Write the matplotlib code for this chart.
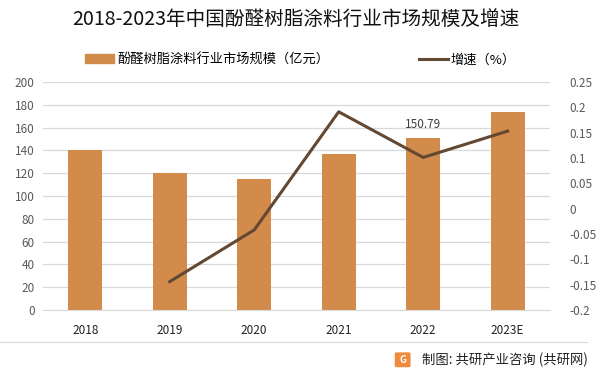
import matplotlib
matplotlib.use("Agg")
import matplotlib.pyplot as plt
from matplotlib.patches import FancyBboxPatch
from matplotlib.lines import Line2D

plt.rcParams['font.family'] = ['Noto Sans CJK SC', 'DejaVu Sans']

years = ['2018', '2019', '2020', '2021', '2022', '2023E']
market_size = [140.3, 120.1, 115.0, 137.0, 150.79, 173.9]
growth_years = ['2019', '2020', '2021', '2022', '2023E']
growth = [-0.144, -0.042, 0.191, 0.101, 0.153]

bar_color = '#D38B4C'
line_color = '#634832'

fig = plt.figure(figsize=(6.01, 3.74), dpi=100)
ax = fig.add_axes([0.0715, 0.171, 0.8435, 0.61])
ax2 = ax.twinx()

x = list(range(len(years)))
ax.bar(x, market_size, width=0.4, color=bar_color, zorder=2)
ax.set_ylim(0, 200)
ax.set_yticks(range(0, 201, 20))
ax.set_xlim(-0.5, len(years) - 0.5)
ax.set_xticks(x)
ax.set_xticklabels(years, fontsize=8.5, color='#222222')
ax.grid(axis='y', color='#d9d9d9', linewidth=0.9, zorder=0)
ax.set_axisbelow(True)
for s in ax.spines.values():
    s.set_visible(False)
ax.spines['bottom'].set_visible(True)
ax.spines['bottom'].set_color('#d9d9d9')
ax.tick_params(axis='x', length=0, pad=10)
ax.tick_params(axis='y', length=0, pad=6, labelsize=8.5, labelcolor='#595959')

# 150.79 label
i22 = years.index('2022')
ax.text(i22, market_size[i22] + 6, '150.79', ha='center', va='bottom', fontsize=8.5, color='#404040')

gx = [years.index(y) for y in growth_years]
ax2.plot(gx, growth, color=line_color, linewidth=2.2, zorder=3)
ax2.set_ylim(-0.2, 0.25)
rt = [-0.2 + 0.05 * i for i in range(10)]
ax2.set_yticks(rt)
ax2.set_yticklabels(['%g' % round(v, 2) for v in rt])
for s in ax2.spines.values():
    s.set_visible(False)
ax2.tick_params(axis='y', length=0, pad=14, labelsize=8.5, labelcolor='#595959')

fig.text(0.492, 0.945, '2018-2023年中国酚醛树脂涂料行业市场规模及增速', ha='center', va='center',
         fontsize=14.1, color='#111111')

handles = [plt.Rectangle((0, 0), 1, 1, color=bar_color),
           Line2D([0], [0], color=line_color, linewidth=2.2)]
fig.legend(handles, ['酚醛树脂涂料行业市场规模（亿元）', '增速（%）'], loc='center',
           bbox_to_anchor=(0.5, 0.84), ncol=2, frameon=False, fontsize=9.5,
           columnspacing=6.8, handlelength=2.2, handletextpad=0.2)

# footer
fig.add_artist(Line2D([0.0, 0.977], [0.086, 0.086], color='#d9d9d9', linewidth=0.8))
logo = FancyBboxPatch((0.66, 0.022), 0.02, 0.032, boxstyle='round,pad=0.002',
                      transform=fig.transFigure, color='#F08A3C', zorder=5)
fig.add_artist(logo)
fig.text(0.67, 0.038, 'G', ha='center', va='center', fontsize=7, color='white', weight='bold', zorder=6)
fig.text(0.978, 0.038, '制图: 共研产业咨询 (共研网)', ha='right', va='center', fontsize=9.6, color='#222222')

fig.savefig('out.png', dpi=100)
